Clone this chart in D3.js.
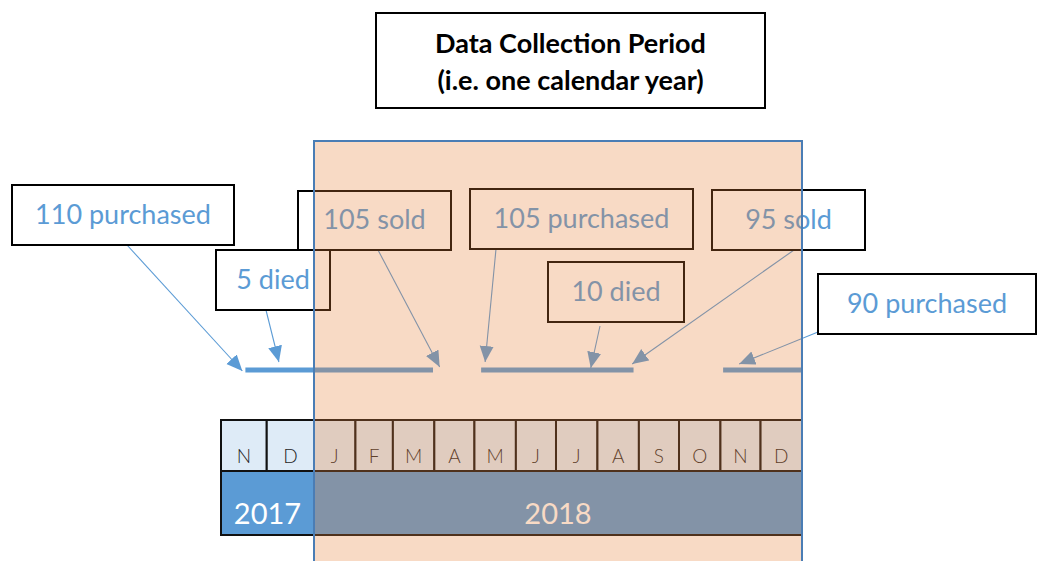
<!DOCTYPE html>
<html><head><meta charset="utf-8">
<script src="https://cdn.jsdelivr.net/npm/d3@7"></script>
<style>body{margin:0;background:#fff} svg{display:block}</style>
</head><body>
<script>
// ---------- data ----------
const titleLines = ["Data Collection Period", "(i.e. one calendar year)"];
const months2017 = ["N", "D"];
const months2018 = ["J", "F", "M", "A", "M", "J", "J", "A", "S", "O", "N", "D"];
const years = ["2017", "2018"];
const periodStart = "2018-01-01";
const periodEnd = "2019-01-01";
// holding segments (flock on hand)
const segStarts = ["2017-11-17", "2018-05-06", "2018-11-03"];
const segEnds = ["2018-03-31", "2018-08-28", "2019-01-01"];
// events
const eventLabels = ["110 purchased", "5 died", "105 sold", "105 purchased", "10 died", "95 sold", "90 purchased"];
const eventDates = ["2017-11-15", "2017-12-09", "2018-04-05", "2018-05-09", "2018-07-27", "2018-08-27", "2018-11-15"];

// ---------- layout (positions / styles) ----------
const W = 1038, H = 561;
const BLUE = "#5B9BD5";
const boxes = [ // x, y, w, h of each annotation box
  [12, 185, 222, 60], [216, 250, 114, 60], [298, 191, 153, 59], [470, 189, 223, 60],
  [548, 262, 136, 60], [712, 190, 153, 60], [818, 274, 218, 60]
];
const arrowFrom = [[127, 245], [266, 310], [378, 250], [496, 249], [600, 326], [794, 250], [818, 332]];
const tipDy = [1, -8, -3, -8, -2, -6, -6];
const drawOrder = [0, 2, 1, 3, 4, 5, 6];
const lineY = 370;
const tableTop = 420, monthRowH = 51, yearRowH = 64;
const FONT = "Lato, 'Open Sans', sans-serif";

const parse = d3.utcParse("%Y-%m-%d");
const x = d3.scaleUtc()
  .domain([parse("2017-11-01"), parse("2018-01-01"), parse("2019-01-01")])
  .range([221, 314, 802]);

const svg = d3.select("body").append("svg").attr("width", W).attr("height", H);
const defs = svg.append("defs");
defs.append("marker").attr("id", "ah")
  .attr("markerUnits", "userSpaceOnUse")
  .attr("markerWidth", 17).attr("markerHeight", 15)
  .attr("refX", 16).attr("refY", 7).attr("orient", "auto")
  .append("path").attr("d", "M0,0 L16,7 L0,14 Z").attr("fill", BLUE);

// ---------- title ----------
const tb = svg.append("g");
tb.append("rect").attr("x", 376).attr("y", 13).attr("width", 389).attr("height", 95)
  .attr("fill", "#fff").attr("stroke", "#000").attr("stroke-width", 2);
tb.selectAll("text").data(titleLines).join("text")
  .attr("x", 570.5).attr("y", (d, i) => 42 + i * 37)
  .attr("text-anchor", "middle").attr("dominant-baseline", "central")
  .attr("font-family", FONT).attr("font-weight", "bold").attr("font-size", 27)
  .attr("fill", "#000").text(d => d);

// ---------- month / year table ----------
const allMonths = d3.utcMonths(parse("2017-11-01"), parse("2019-01-01"));
const monthLabels = months2017.concat(months2018);
const tbl = svg.append("g");
tbl.selectAll("rect.m").data(allMonths).join("rect").attr("class", "m")
  .attr("x", d => x(d)).attr("y", tableTop)
  .attr("width", d => x(d3.utcMonth.offset(d, 1)) - x(d)).attr("height", monthRowH)
  .attr("fill", "#DEEBF7").attr("stroke", "#111").attr("stroke-width", 2);
tbl.selectAll("text.m").data(allMonths).join("text").attr("class", "m")
  .attr("x", d => (x(d) + x(d3.utcMonth.offset(d, 1))) / 2).attr("y", tableTop + 35)
  .attr("text-anchor", "middle").attr("dominant-baseline", "central")
  .attr("font-family", FONT).attr("font-weight", 300).attr("font-size", 19).attr("fill", "#262626")
  .text((d, i) => monthLabels[i]);
const yearSpans = [[parse("2017-11-01"), parse("2018-01-01")], [parse(periodStart), parse(periodEnd)]];
tbl.selectAll("rect.y").data(yearSpans).join("rect").attr("class", "y")
  .attr("x", d => x(d[0])).attr("y", tableTop + monthRowH)
  .attr("width", d => x(d[1]) - x(d[0])).attr("height", yearRowH)
  .attr("fill", BLUE).attr("stroke", "#111").attr("stroke-width", 2);
tbl.selectAll("text.y").data(yearSpans).join("text").attr("class", "y")
  .attr("x", d => (x(d[0]) + x(d[1])) / 2).attr("y", tableTop + monthRowH + yearRowH / 2 + 9)
  .attr("text-anchor", "middle").attr("dominant-baseline", "central")
  .attr("font-family", FONT).attr("font-size", 29).attr("fill", "#fff")
  .text((d, i) => years[i]);

// ---------- holding segments ----------
svg.append("g").selectAll("line").data(segStarts).join("line")
  .attr("x1", d => x(parse(d))).attr("x2", (d, i) => x(parse(segEnds[i])))
  .attr("y1", lineY).attr("y2", lineY)
  .attr("stroke", BLUE).attr("stroke-width", 5);

// ---------- arrows ----------
svg.append("g").selectAll("line").data(eventDates).join("line")
  .attr("x1", (d, i) => arrowFrom[i][0]).attr("y1", (d, i) => arrowFrom[i][1])
  .attr("x2", d => x(parse(d))).attr("y2", (d, i) => lineY + tipDy[i])
  .attr("stroke", BLUE).attr("stroke-width", 1.1).attr("marker-end", "url(#ah)");

// ---------- annotation boxes ----------
const bg = svg.append("g").selectAll("g").data(drawOrder).join("g");
bg.append("rect")
  .attr("x", i => boxes[i][0]).attr("y", i => boxes[i][1])
  .attr("width", i => boxes[i][2]).attr("height", i => boxes[i][3])
  .attr("fill", "#fff").attr("stroke", "#000").attr("stroke-width", 2);
bg.append("text")
  .attr("x", i => boxes[i][0] + boxes[i][2] / 2).attr("y", i => boxes[i][1] + boxes[i][3] / 2 - 2)
  .attr("text-anchor", "middle").attr("dominant-baseline", "central")
  .attr("font-family", FONT).attr("font-size", 27).attr("fill", BLUE)
  .text(i => eventLabels[i]);

// ---------- data collection period overlay ----------
const px0 = x(parse(periodStart)), px1 = x(parse(periodEnd));
svg.append("rect").attr("x", px0).attr("y", 141).attr("width", px1 - px0).attr("height", 440)
  .attr("fill", "rgb(231,129,54)").attr("fill-opacity", 0.29);
svg.append("rect").attr("x", px0).attr("y", 141).attr("width", px1 - px0).attr("height", 440)
  .attr("fill", "none").attr("stroke", "#4A7DB5").attr("stroke-width", 2);
</script>
</body></html>
